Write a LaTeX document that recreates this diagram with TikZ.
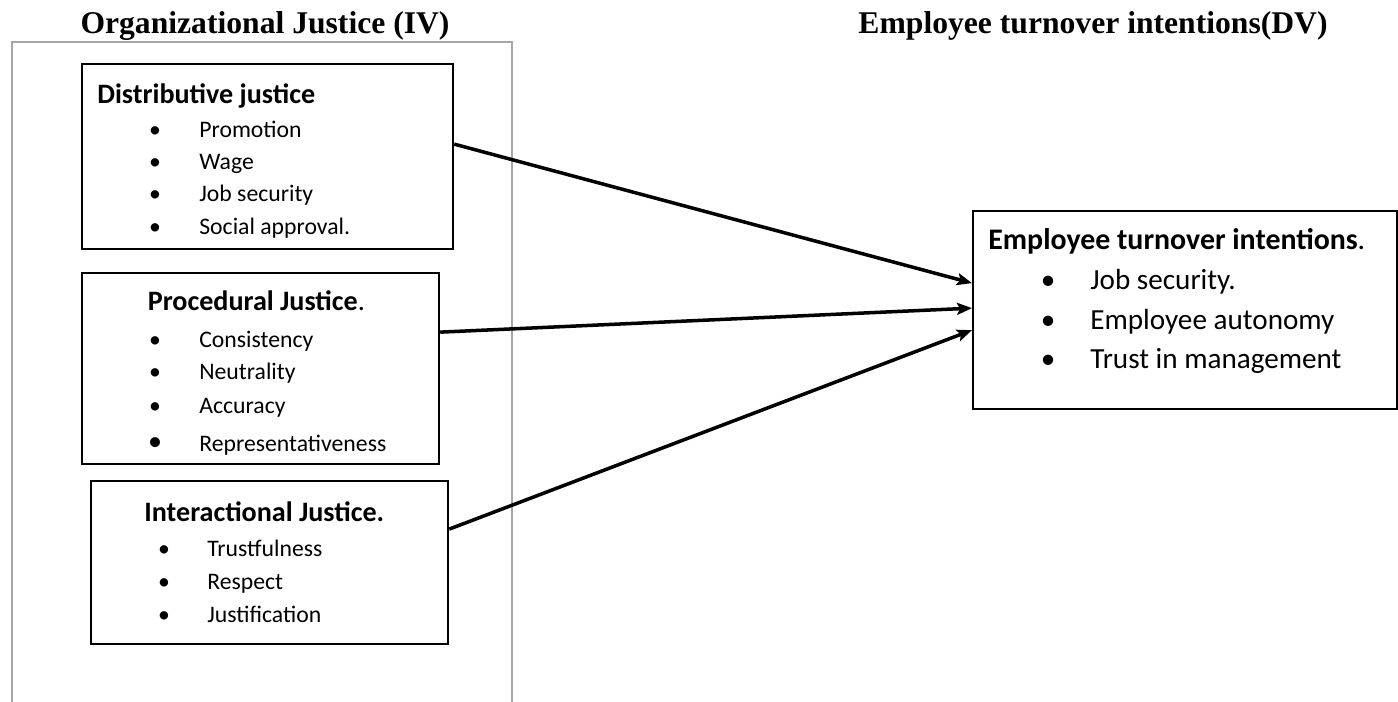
\documentclass[tikz,border=0pt]{standalone}
\usepackage{fontspec}
\setmainfont{Carlito}
\newfontfamily\headfont{Liberation Serif}
\usetikzlibrary{arrows.meta}
\definecolor{frameGray}{HTML}{A6A6A6}

\tikzset{
  box/.style={draw=black, line width=1.3pt, anchor=north west, inner sep=0pt},
  heading/.style={font=\headfont\bfseries\fontsize{18}{20}\selectfont, anchor=base},
  boxtitle/.style={font=\bfseries\fontsize{16}{18}\selectfont, anchor=base west, inner sep=0pt},
  item/.style={font=\fontsize{13.5}{15}\selectfont, anchor=base west, inner sep=0pt},
  dot/.style={font=\fontsize{13.5}{15}\selectfont, anchor=base, inner sep=0pt},
  link/.style={-{Stealth[length=0.3cm, width=0.24cm, inset=0.06cm]}, line width=2pt},
}

\begin{document}
\begin{tikzpicture}[x=0.02cm, y=-0.02cm]
  \useasboundingbox (0,0) rectangle (1398,702);

  % headings
  \node[heading] (ivhead) at (265,34) {Organizational Justice (IV)};
  \node[heading] (dvhead) at (1093,34) {Employee turnover intentions(DV)};

  % open grey frame
  \draw[frameGray, line width=1.1pt] (12,702) -- (12,42) -- (512,42) -- (512,702);

  % boxes
  \node[box, minimum width=7.42cm, minimum height=3.7cm] (dist) at (81,63) {};
  \node[box, minimum width=7.14cm, minimum height=3.82cm] (proc) at (81,272) {};
  \node[box, minimum width=7.14cm, minimum height=3.26cm] (inter) at (90,480) {};
  \node[box, minimum width=8.48cm, minimum height=3.96cm] (turn) at (972,210) {};

  % distributive justice
  \node[boxtitle] (dist-title) at (97,104) {Distributive justice};
  \foreach \txt/\y [count=\i] in {Promotion/138, Wage/170, Job security/202, Social approval./235} {
    \node[dot] at (155,\y) {\textbullet};
    \node[item] (dist-\i) at (199,\y) {\txt};
  }

  % procedural justice
  \node[boxtitle] (proc-title) at (147.5,311) {Procedural Justice\textmd{.}};
  \foreach \txt/\y [count=\i] in {Consistency/347, Neutrality/379, Accuracy/413} {
    \node[dot] at (155,\y) {\textbullet};
    \node[item] (proc-\i) at (199,\y) {\txt};
  }
  \node[dot, font=\fontsize{16}{18}\selectfont] at (155,450) {\textbullet};
  \node[item] (proc-4) at (199,451) {Representativeness};

  % interactional justice
  \node[boxtitle] (inter-title) at (144,521) {Interactional Justice.};
  \foreach \txt/\y [count=\i] in {Trustfulness/556, Respect/589, Justification/622} {
    \node[dot] at (164,\y) {\textbullet};
    \node[item] (inter-\i) at (207,\y) {\txt};
  }

  % turnover intentions
  \node[boxtitle, font=\bfseries\fontsize{17}{19}\selectfont] (turn-title) at (988,250) {Employee turnover intentions\textmd{.}};
  \foreach \txt/\y [count=\i] in {Job security./290, Employee autonomy/329, Trust in management/368} {
    \node[dot, font=\fontsize{16.6}{18}\selectfont] at (1048,\y) {\textbullet};
    \node[item, font=\fontsize{16.6}{18}\selectfont] (turn-\i) at (1090,\y) {\txt};
  }

  % links
  \draw[link] ([yshift=0.25cm]dist.east) -- ([yshift=0.54cm]turn.west);
  \draw[link] ([yshift=0.73cm]proc.east) -- ([yshift=0.04cm]turn.west);
  \draw[link] ([yshift=0.67cm]inter.east) -- ([yshift=-0.4cm]turn.west);
\end{tikzpicture}
\end{document}
